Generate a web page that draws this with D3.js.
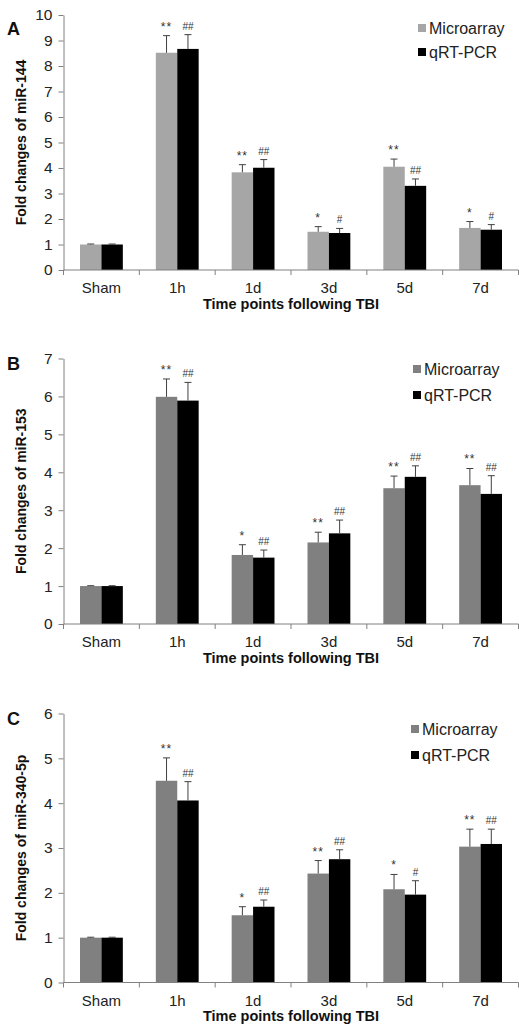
<!DOCTYPE html>
<html>
<head>
<meta charset="utf-8">
<script src="https://cdn.jsdelivr.net/npm/d3@7"></script>
<style>
  body { margin: 0; background: #fff; }
  svg { display: block; font-family: Arial, "Liberation Sans", sans-serif; }
</style>
</head>
<body>
<div id="chart"></div>
<script>
// fold changes (three panels, same time points)
const categories = ["Sham", "1h", "1d", "3d", "5d", "7d"];
const series = ["Microarray", "qRT-PCR"];

const aMicro = [1.0, 8.52, 3.83, 1.50, 4.05, 1.65];
const aMicroErr = [0.02, 0.67, 0.30, 0.20, 0.30, 0.25];
const aQpcr = [1.0, 8.67, 4.01, 1.45, 3.30, 1.58];
const aQpcrErr = [0.02, 0.56, 0.32, 0.18, 0.27, 0.20];
const aMicroSig = ["", "**", "**", "*", "**", "*"];
const aQpcrSig = ["", "##", "##", "#", "##", "#"];

const bMicro = [1.0, 5.99, 1.82, 2.15, 3.58, 3.66];
const bMicroErr = [0.01, 0.47, 0.27, 0.27, 0.32, 0.44];
const bQpcr = [1.0, 5.89, 1.75, 2.39, 3.88, 3.43];
const bQpcrErr = [0.01, 0.48, 0.20, 0.35, 0.29, 0.48];
const bMicroSig = ["", "**", "*", "**", "**", "**"];
const bQpcrSig = ["", "##", "##", "##", "##", "##"];

const cMicro = [1.0, 4.50, 1.50, 2.43, 2.08, 3.03];
const cMicroErr = [0.01, 0.51, 0.19, 0.29, 0.33, 0.39];
const cQpcr = [1.0, 4.06, 1.69, 2.75, 1.96, 3.09];
const cQpcrErr = [0.01, 0.42, 0.15, 0.21, 0.31, 0.33];
const cMicroSig = ["", "**", "*", "**", "*", "**"];
const cQpcrSig = ["", "##", "##", "##", "#", "##"];

const width = 519, height = 1027;

const svg = d3.select("#chart")
    .append("svg")
    .attr("width", width)
    .attr("height", height);

// layout of each panel (pixel placement only)
const panels = [
    { label: "A", gene: "miR-144", yMax: 10, top: 15, bottom: 270, microColor: "#a6a6a6",
      legendX: 418, legendY: 28, legendGap: 24,
      micro: aMicro, microErr: aMicroErr, qpcr: aQpcr, qpcrErr: aQpcrErr, microSig: aMicroSig, qpcrSig: aQpcrSig },
    { label: "B", gene: "miR-153", yMax: 7, top: 358.5, bottom: 624, microColor: "#808080",
      legendX: 413, legendY: 369, legendGap: 26,
      micro: bMicro, microErr: bMicroErr, qpcr: bQpcr, qpcrErr: bQpcrErr, microSig: bMicroSig, qpcrSig: bQpcrSig },
    { label: "C", gene: "miR-340-5p", yMax: 6, top: 713.5, bottom: 982.5, microColor: "#808080",
      legendX: 411, legendY: 729, legendGap: 26,
      micro: cMicro, microErr: cMicroErr, qpcr: cQpcr, qpcrErr: cQpcrErr, microSig: cMicroSig, qpcrSig: cQpcrSig }
];

const x0 = d3.scaleBand()
    .domain(categories)
    .range([63.5, 518.5]);

const x1 = d3.scaleBand()
    .domain(series)
    .range([16.5, x0.bandwidth() - 16.5]);

const axisColor = "#808080";

panels.forEach(p => {
    const y = d3.scaleLinear()
        .domain([0, p.yMax])
        .range([p.bottom, p.top]);

    const color = d3.scaleOrdinal(series, [p.microColor, "#000000"]);

    const g = svg.append("g");

    // rows for bars: one per category per series
    const rows = [];
    categories.forEach((c, i) => {
        rows.push({ cat: c, s: series[0], v: p.micro[i], e: p.microErr[i], sig: p.microSig[i] });
        rows.push({ cat: c, s: series[1], v: p.qpcr[i], e: p.qpcrErr[i], sig: p.qpcrSig[i] });
    });

    g.selectAll("rect.bar")
        .data(rows)
        .join("rect")
        .attr("class", "bar")
        .attr("x", d => x0(d.cat) + x1(d.s))
        .attr("y", d => y(d.v))
        .attr("width", x1.bandwidth())
        .attr("height", d => y(0) - y(d.v))
        .attr("fill", d => color(d.s));

    // error bars (upper half only)
    const cx = d => x0(d.cat) + x1(d.s) + x1.bandwidth() / 2;
    g.selectAll("line.err")
        .data(rows)
        .join("line")
        .attr("class", "err")
        .attr("x1", cx).attr("x2", cx)
        .attr("y1", d => y(d.v))
        .attr("y2", d => y(d.v + d.e))
        .attr("stroke", "#404040")
        .attr("stroke-width", 1);

    g.selectAll("line.cap")
        .data(rows)
        .join("line")
        .attr("class", "cap")
        .attr("x1", d => cx(d) - 3.5).attr("x2", d => cx(d) + 3.5)
        .attr("y1", d => y(d.v + d.e))
        .attr("y2", d => y(d.v + d.e))
        .attr("stroke", "#404040")
        .attr("stroke-width", 1);

    g.selectAll("text.sig")
        .data(rows.filter(d => d.sig !== ""))
        .join("text")
        .attr("class", "sig")
        .attr("x", cx)
        .attr("y", d => y(d.v + d.e) - 5)
        .attr("text-anchor", "middle")
        .attr("font-size", d => d.s === series[0] ? "12px" : "10px")
        .attr("letter-spacing", d => d.s === series[0] ? "1px" : "0px")
        .attr("fill", "#333")
        .text(d => d.sig);

    // y axis
    const yAxis = g.append("g")
        .attr("transform", `translate(${x0.range()[0]},0)`)
        .call(d3.axisLeft(y).ticks(p.yMax).tickSize(5).tickSizeOuter(0).tickPadding(6));
    yAxis.select(".domain").attr("stroke", axisColor);
    yAxis.selectAll(".tick line").attr("stroke", axisColor);
    yAxis.selectAll(".tick text")
        .attr("font-size", "15.5px")
        .attr("font-family", "Arial, 'Liberation Sans', sans-serif")
        .attr("fill", "#222");

    // x axis: line, ticks at category boundaries, labels at centres
    const xr = x0.range();
    g.append("line")
        .attr("x1", xr[0]).attr("x2", xr[1])
        .attr("y1", y(0)).attr("y2", y(0))
        .attr("stroke", axisColor);

    const bounds = categories.map(c => x0(c)).concat([xr[1]]);
    g.selectAll("line.xtick")
        .data(bounds)
        .join("line")
        .attr("class", "xtick")
        .attr("x1", d => d).attr("x2", d => d)
        .attr("y1", y(0)).attr("y2", y(0) + 5)
        .attr("stroke", axisColor);

    g.selectAll("text.xlab")
        .data(categories)
        .join("text")
        .attr("class", "xlab")
        .attr("x", d => x0(d) + x0.bandwidth() / 2)
        .attr("y", y(0) + 23)
        .attr("text-anchor", "middle")
        .attr("font-size", "15px")
        .attr("fill", "#222")
        .text(d => d);

    g.append("text")
        .attr("x", (xr[0] + xr[1]) / 2)
        .attr("y", y(0) + 38.5)
        .attr("text-anchor", "middle")
        .attr("font-size", "14.5px")
        .attr("font-weight", "bold")
        .attr("fill", "#111")
        .text("Time points following TBI");

    // y title
    g.append("text")
        .attr("transform", `translate(26,${(p.top + p.bottom) / 2}) rotate(-90)`)
        .attr("text-anchor", "middle")
        .attr("font-size", "14px")
        .attr("font-weight", "bold")
        .attr("fill", "#111")
        .text(`Fold changes of ${p.gene}`);

    // panel letter
    g.append("text")
        .attr("x", 7)
        .attr("y", p.top + (p.label === "A" ? 19.5 : 11))
        .attr("font-size", "18px")
        .attr("font-weight", "bold")
        .attr("fill", "#111")
        .text(p.label);

    // legend
    const leg = g.selectAll("g.leg")
        .data(series)
        .join("g")
        .attr("class", "leg")
        .attr("transform", (d, i) => `translate(${p.legendX},${p.legendY + i * p.legendGap})`);

    leg.append("rect")
        .attr("x", 0).attr("y", -4)
        .attr("width", 8).attr("height", 8)
        .attr("fill", d => color(d));

    leg.append("text")
        .attr("x", 11)
        .attr("y", 6)
        .attr("font-size", "16px")
        .attr("fill", "#222")
        .text(d => d);
});
</script>
</body>
</html>
